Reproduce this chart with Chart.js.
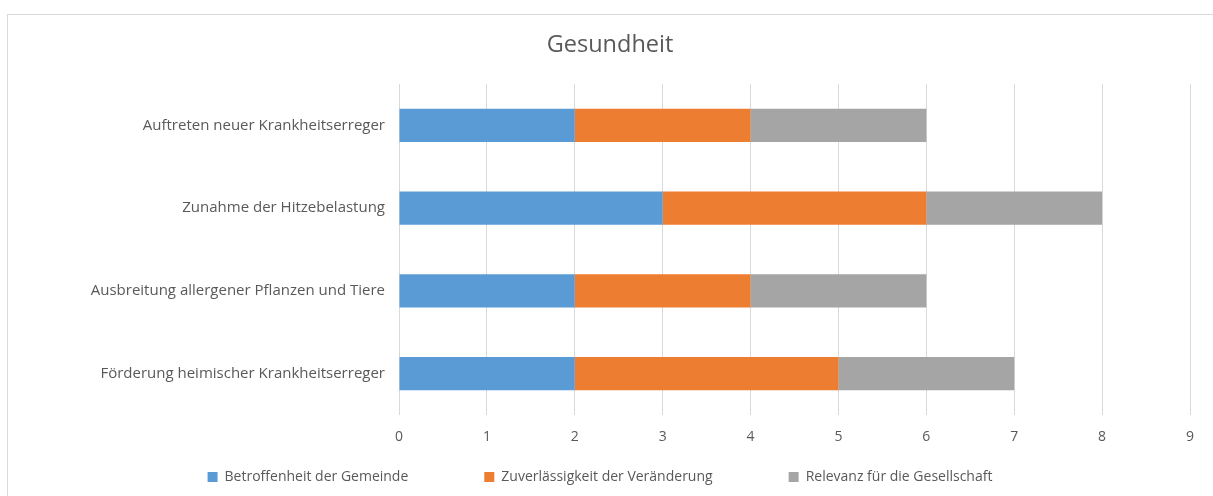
<!DOCTYPE html>
<html>
<head>
<meta charset="utf-8">
<script src="https://cdn.jsdelivr.net/npm/chart.js@4"></script>
<style>
  html, body { margin: 0; padding: 0; background: #fff; width: 1213px; height: 496px; overflow: hidden; }
  #frame { position: absolute; left: 7px; top: 14px; width: 1230px; height: 500px; border: 1px solid #d9d9d9; box-sizing: border-box; }
  #wrap { position: absolute; left: 0; top: 0; width: 1213px; height: 496px; }
</style>
</head>
<body>
<div id="frame"></div>
<div id="wrap"><canvas id="c" width="1213" height="496"></canvas></div>
<script>
const categories = [
  "Auftreten neuer Krankheitserreger",
  "Zunahme der Hitzebelastung",
  "Ausbreitung allergener Pflanzen und Tiere",
  "Förderung heimischer Krankheitserreger"
];
const seriesNames = ["Betroffenheit der Gemeinde", "Zuverlässigkeit der Veränderung", "Relevanz für die Gesellschaft"];
const betroffenheit = [2, 3, 2, 2];
const zuverlaessigkeit = [2, 3, 2, 3];
const relevanz = [2, 2, 2, 2];
const xTicks = [0, 1, 2, 3, 4, 5, 6, 7, 8, 9];
const colors = ["#5B9BD5", "#ED7D31", "#A5A5A5"];

const FONT = "'Open Sans', Lato, sans-serif";
const TXT = "#595959";
const LEGEND_GAP = 76;

// Place legend / title boxes after layout (keeps spacing like the original Excel chart)
const shiftBoxes = {
  id: 'shiftBoxes',
  afterLayout(chart) {
    const l = chart.legend;
    if (l) {
      const targetItemTop = 470;
      l.top = targetItemTop - LEGEND_GAP;
      l.bottom = 496;
      l.height = l.bottom - l.top;
      l.left += 5; l.right += 5;
    }
    const t = chart.titleBlock;
    if (t) { t.left += 15; t.right += 15; }
  }
};

new Chart(document.getElementById('c'), {
  type: 'bar',
  data: {
    labels: categories,
    datasets: [betroffenheit, zuverlaessigkeit, relevanz].map((d, i) => ({
      label: seriesNames[i],
      data: d,
      backgroundColor: colors[i],
      borderWidth: 0,
      barPercentage: 0.4,
      categoryPercentage: 1.0
    }))
  },
  plugins: [shiftBoxes],
  options: {
    indexAxis: 'y',
    responsive: false,
    animation: false,
    devicePixelRatio: 1,
    layout: { padding: { left: 0, right: 23, top: 0, bottom: 0 } },
    plugins: {
      title: {
        display: true,
        text: 'Gesundheit',
        color: TXT,
        font: { family: FONT, size: 23.5, weight: 'normal' },
        padding: { top: 31, bottom: 24.8 }
      },
      legend: {
        position: 'bottom',
        maxHeight: 50,
        labels: {
          color: TXT,
          font: { family: FONT, size: 14 },
          boxWidth: 10,
          boxHeight: 10,
          padding: LEGEND_GAP
        }
      },
      tooltip: { enabled: false }
    },
    scales: {
      x: {
        stacked: true,
        min: 0,
        max: 9,
        afterBuildTicks: (ax) => { ax.ticks = xTicks.map(v => ({ value: v })); },
        grid: { color: '#D9D9D9', drawTicks: false, lineWidth: 1 },
        border: { display: false },
        ticks: { color: TXT, font: { family: FONT, size: 14 }, padding: 14 },
        afterFit: (ax) => { ax.height = 31; }
      },
      y: {
        stacked: true,
        grid: { display: false, drawTicks: false },
        border: { display: false },
        ticks: { color: TXT, font: { family: FONT, size: 15 }, padding: 14 },
        afterFit: (ax) => { ax.width = 399; }
      }
    }
  }
});
</script>
</body>
</html>
